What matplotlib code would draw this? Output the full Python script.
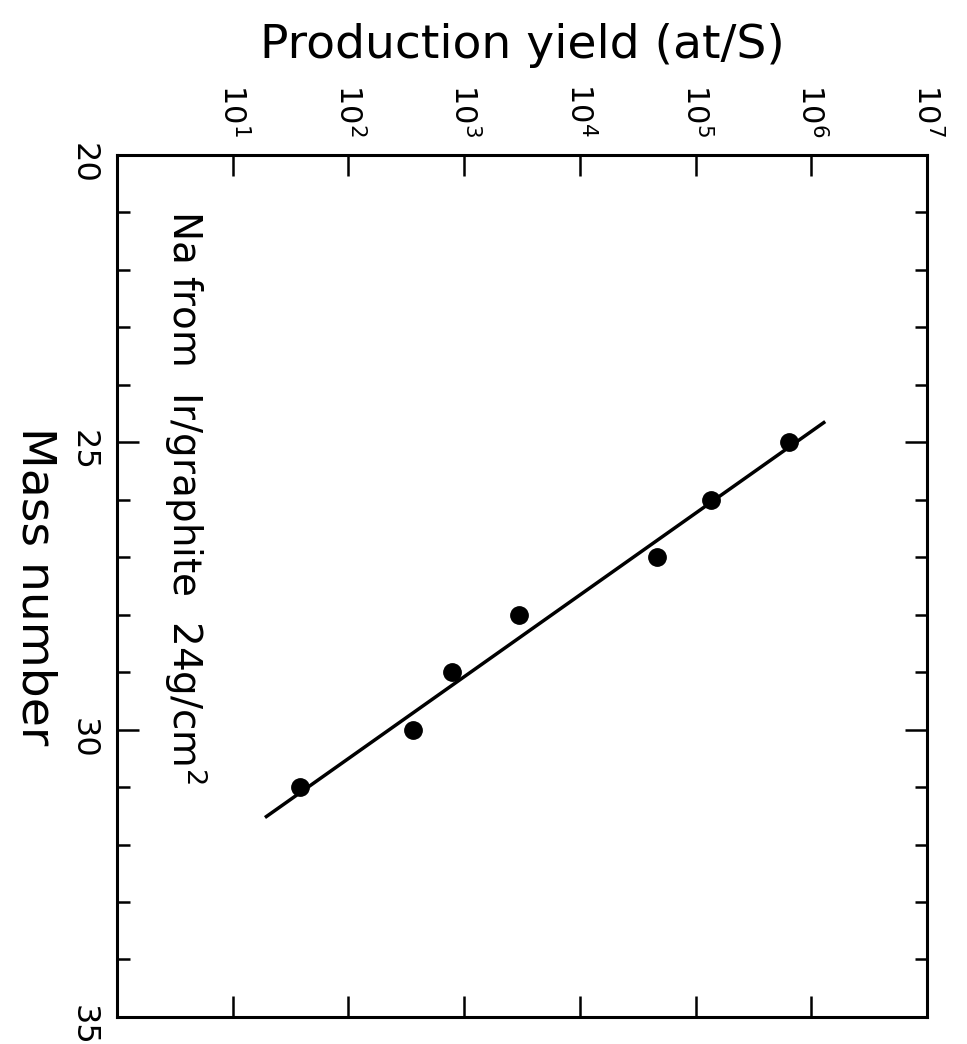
import matplotlib
matplotlib.use('Agg')
import matplotlib.pyplot as plt
from matplotlib.ticker import FixedLocator, NullLocator, MultipleLocator

# Na isotopes from Ir/graphite target
mass = [25, 26, 27, 28, 29, 30, 31]
yields = [6.4e5, 1.35e5, 4.6e4, 3.0e3, 7.9e2, 3.6e2, 3.8e1]

# straight-line fit through the points (end points)
fit_mass = [24.64, 31.53]
fit_yield = [1.32e6, 1.9e1]

decades = [1e1, 1e2, 1e3, 1e4, 1e5, 1e6, 1e7]
decade_labels = ['$10^{%d}$' % i for i in range(1, 8)]
mass_ticks = [20, 25, 30, 35]

plt.rcParams['font.family'] = ['DejaVu Sans']
plt.rcParams['mathtext.fontset'] = 'dejavusans'

fig = plt.figure(figsize=(9.67, 10.44), dpi=100)
ax = fig.add_axes([0.1210, 0.0259, 0.8376, 0.8257])

ax.plot(fit_yield, fit_mass, color='black', lw=2.5, solid_capstyle='butt')
ax.plot(yields, mass, 'o', color='black', ms=12.5)

ax.set_xscale('log')
ax.set_xlim(1, 1e7)
ax.set_ylim(35, 20)

ax.xaxis.set_major_locator(FixedLocator(decades))
ax.xaxis.set_minor_locator(NullLocator())
ax.set_xticklabels(decade_labels)
ax.yaxis.set_major_locator(FixedLocator(mass_ticks))
ax.yaxis.set_minor_locator(MultipleLocator(1))
ax.set_yticklabels([str(m) for m in mass_ticks])

ax.tick_params(axis='x', which='major', direction='in', top=True, bottom=True,
               labeltop=True, labelbottom=False, length=15, width=1.8,
               labelsize=22, labelrotation=-90, pad=13)
ax.tick_params(axis='y', which='major', direction='in', left=True, right=True,
               length=16, width=1.8, labelsize=23, labelrotation=-90, pad=13)
ax.tick_params(axis='y', which='minor', direction='in', left=True, right=True,
               length=9, width=1.8)

for s in ax.spines.values():
    s.set_linewidth(2.2)

ax.xaxis.set_label_position('top')
ax.set_xlabel('Production yield (at/S)', fontsize=34, labelpad=18)
ax.set_ylabel('Mass number', fontsize=34, rotation=-90, labelpad=24, va='center')

ax.text(3.9, 20.95, 'Na from  Ir/graphite  24g/cm$^2$', rotation=-90,
        ha='center', va='top', fontsize=28)

fig.savefig('out.png', dpi=100)
